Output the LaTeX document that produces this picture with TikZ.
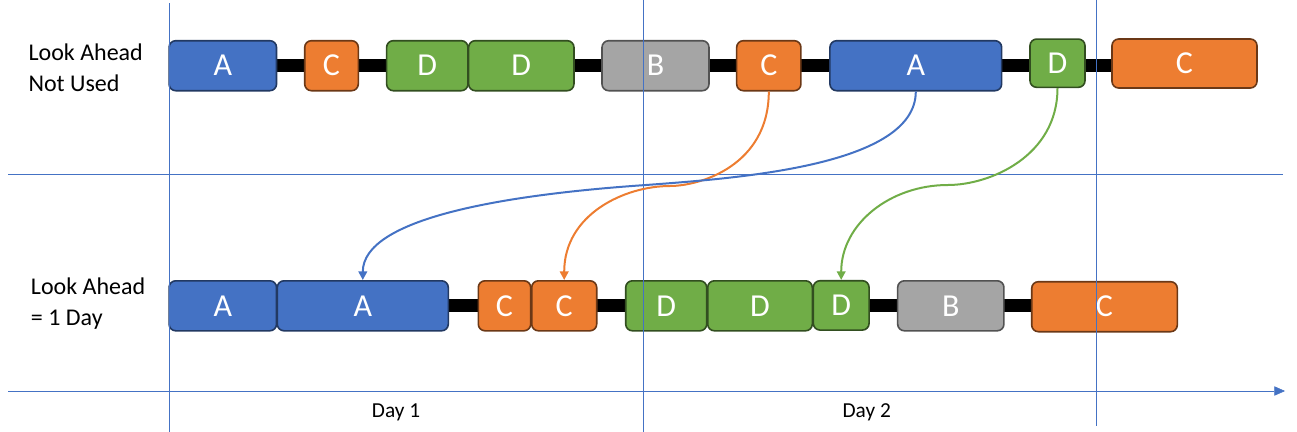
\documentclass[tikz,border=0pt]{standalone}
\usepackage{fontspec}
\setmainfont{Carlito}
\usetikzlibrary{arrows.meta,backgrounds}
\definecolor{jobA}{HTML}{4472C4}
\definecolor{jobB}{HTML}{A5A5A5}
\definecolor{jobC}{HTML}{ED7D31}
\definecolor{jobD}{HTML}{70AD47}
\definecolor{guide}{HTML}{4472C4}
\begin{document}
\begin{tikzpicture}[x=0.75pt,y=-0.75pt,
  job/.style={rounded corners=5pt, line width=1.2pt, minimum height=37.5pt, inner sep=0pt, text=white, font=\fontsize{24}{28}\selectfont},
  boxA/.style={job, fill=jobA, draw=jobA!50!black},
  boxB/.style={job, fill=jobB, draw=jobB!50!black},
  boxC/.style={job, fill=jobC, draw=jobC!45!black},
  boxD/.style={job, fill=jobD, draw=jobD!45!black},
  bar/.style={line width=9.75pt},
  flow/.style={line width=1.5pt, -{Triangle[length=6.5pt,width=6.5pt]}},
  lbl/.style={anchor=base west, align=left, inner sep=0pt, font=\fontsize{18}{23.25}\selectfont},
  day/.style={anchor=base, inner sep=0pt, font=\fontsize{16}{19}\selectfont}]
\useasboundingbox (0,0) rectangle (1297,432);

% look ahead not used
\node[boxA, minimum width=80.6pt] (tA1) at (222.8,65.7) {A};
\node[boxC, minimum width=40.2pt] (tC1) at (331.5,65.7) {C};
\node[boxD, minimum width=61pt] (tD1) at (427.3,65.7) {D};
\node[boxD, minimum width=79pt] (tD2) at (521.3,65.7) {D};
\node[boxB, minimum width=80.25pt] (tB) at (655.5,65.7) {B};
\node[boxC, minimum width=48.2pt] (tC2) at (768.8,65.7) {C};
\node[boxA, minimum width=128.8pt] (tA2) at (915.8,65.7) {A};
\node[boxD, minimum width=41.25pt, minimum height=36.2pt] (tD3) at (1057.5,63.2) {D};
\node[boxC, minimum width=108.75pt, minimum height=36.75pt] (tC3) at (1184.5,63.5) {C};

% look ahead = 1 day
\node[boxA, minimum width=80.6pt] (bA1) at (222.8,305.8) {A};
\node[boxA, minimum width=128.25pt] (bA2) at (362.8,305.8) {A};
\node[boxC, minimum width=39.3pt] (bC1) at (504.5,305.8) {C};
\node[boxC, minimum width=48.75pt] (bC2) at (564.2,305.8) {C};
\node[boxD, minimum width=60.75pt] (bD1) at (666.2,305.8) {D};
\node[boxD, minimum width=78.45pt] (bD2) at (760,305.8) {D};
\node[boxD, minimum width=41.8pt, minimum height=37pt] (bD3) at (841.2,305.4) {D};
\node[boxB, minimum width=79.7pt] (bB) at (950.8,305.8) {B};
\node[boxC, minimum width=109.2pt] (bC3) at (1104.5,306.7) {C};

% bars
\begin{scope}[on background layer]
\draw[bar] (tA1.east) -- (tA1.east -| tC3.west);
\draw[bar] (bA2.east) -- (bA2.east -| bC3.west);
\end{scope}

% days
\draw[guide] (169,3) -- (169,432);
\draw[guide] (643.5,0) -- (643.5,432);
\draw[guide] (1096.5,0) -- (1096.5,426);
\draw[guide] (8,174) -- (1283,174);
\draw[guide, -{Triangle[length=8pt,width=7pt]}] (8,391) -- (1285,391);

% labels
\node[lbl] (notused) at (28.3,91.7) {Look Ahead\\Not Used};
\node[lbl] (oneday) at (30.7,325) {Look Ahead\\= 1 Day};
\node[day] (day1) at (396,417.7) {Day 1};
\node[day] (day2) at (866.7,417.7) {Day 2};

% moves
\coordinate (mA) at (646,185);
\coordinate (mC) at (670,186);
\coordinate (mD) at (948,185);
\draw[flow, jobC] (tC2.south) .. controls +(0,74) and +(30,0) .. (mC) .. controls +(-45,0) and +(0,-66) .. (bC2.north);
\draw[flow, jobA] (tA2.south) .. controls +(0,74) and +(94,-7) .. (mA) .. controls +(-146,10) and +(0,-61) .. (bA2.north);
\draw[flow, jobD] (tD3.south) .. controls +(0,68) and +(42,0) .. (mD) .. controls +(-58,0) and +(0,-56) .. (bD3.north);

\end{tikzpicture}
\end{document}
